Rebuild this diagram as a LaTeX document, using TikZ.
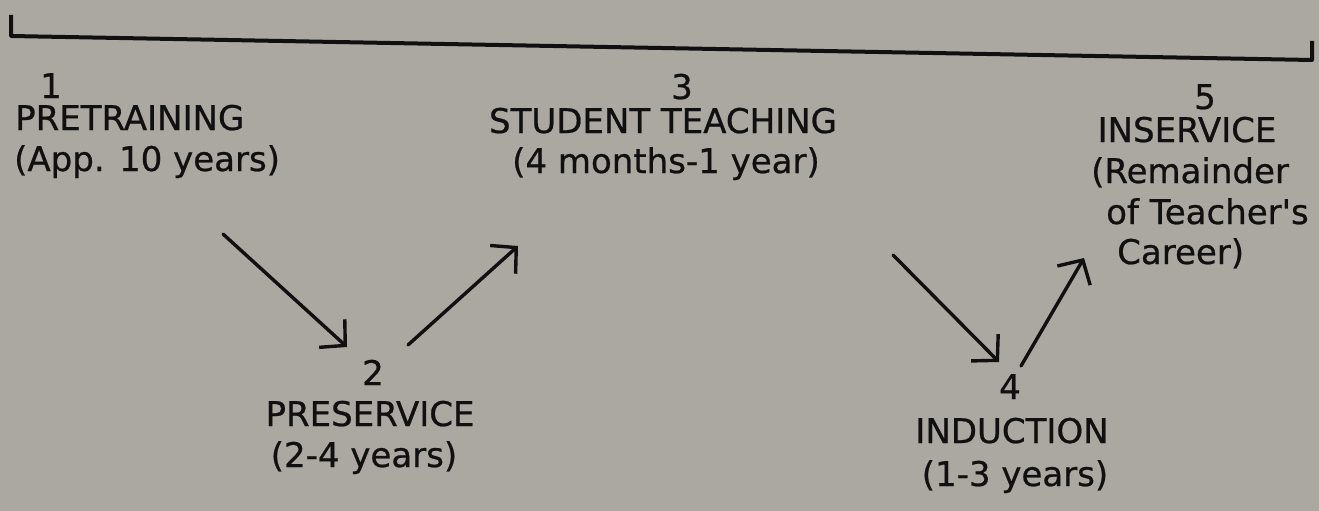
\documentclass[tikz,border=0pt]{standalone}
\usepackage{fontspec}
\setmainfont{DejaVu Sans}[FakeBold=0.7]
\usetikzlibrary{arrows.meta}
\definecolor{bg}{RGB}{170,168,160}
\definecolor{ink}{RGB}{16,16,16}
\begin{document}
\begin{tikzpicture}[x=1pt,y=-1pt,
  lbl/.style={font=\fontsize{34}{40}\selectfont, text=ink, inner sep=0pt, anchor=base},
  lblw/.style={lbl, anchor=base west},
  arr/.style={draw=ink, line width=3.4pt, line cap=round,
    -{Straight Barb[length=18pt,width=38pt,line width=3.4pt]}},
  rule/.style={draw=ink, line width=4pt, line join=round}
]
\fill[bg] (0,0) rectangle (1319,511);
\useasboundingbox (0,0) rectangle (1319,511);

% time line
\coordinate (L0) at (11,15);
\coordinate (L1) at (11,36);
\coordinate (R1) at (1312,60);
\coordinate (R0) at (1312,41);
\draw[rule] (L0) -- (L1) -- (R1) -- (R0);

% stage 1
\node[lbl]  (n1) at (51,98) {1};
\node[lblw] (t1) at (15,130) {PRETRAINING};
\node[lblw] (d1) at (14,171) {(App. 10 years)};
% stage 3
\node[lbl]  (n3) at (682,99) {3};
\node[lbl]  (t3) at (663,133) {STUDENT TEACHING};
\node[lbl]  (d3) at (666,173) {(4 months-1 year)};
% stage 5
\node[lbl]  (n5) at (1205,109) {5};
\node[lbl]  (t5) at (1187,142) {INSERVICE};
\node[lblw] (d5a) at (1091,183) {(Remainder};
\node[lblw] (d5b) at (1106,224) {of Teacher\textquotesingle s};
\node[lblw] (d5c) at (1117,264) {Career)};
% stage 2
\node[lbl]  (n2) at (373,385) {2};
\node[lbl]  (t2) at (370,426) {PRESERVICE};
\node[lbl]  (d2) at (364,467) {(2-4 years)};
% stage 4
\node[lbl]  (n4) at (1010,399) {4};
\node[lbl]  (t4) at (1012,443) {INDUCTION};
\node[lbl]  (d4) at (1015,486) {(1-3 years)};

% arrows
\coordinate (a1s) at (223,234);
\coordinate (a1e) at (347,347);
\coordinate (a2s) at (408,345);
\coordinate (a2e) at (518,246);
\coordinate (a3s) at (893,255);
\coordinate (a3e) at (999,362);
\coordinate (a4s) at (1021,366);
\coordinate (a4e) at (1084,258);
\draw[arr] (a1s) -- (a1e);
\draw[arr] (a2s) -- (a2e);
\draw[arr] (a3s) -- (a3e);
\draw[arr] (a4s) -- (a4e);
\end{tikzpicture}
\end{document}
